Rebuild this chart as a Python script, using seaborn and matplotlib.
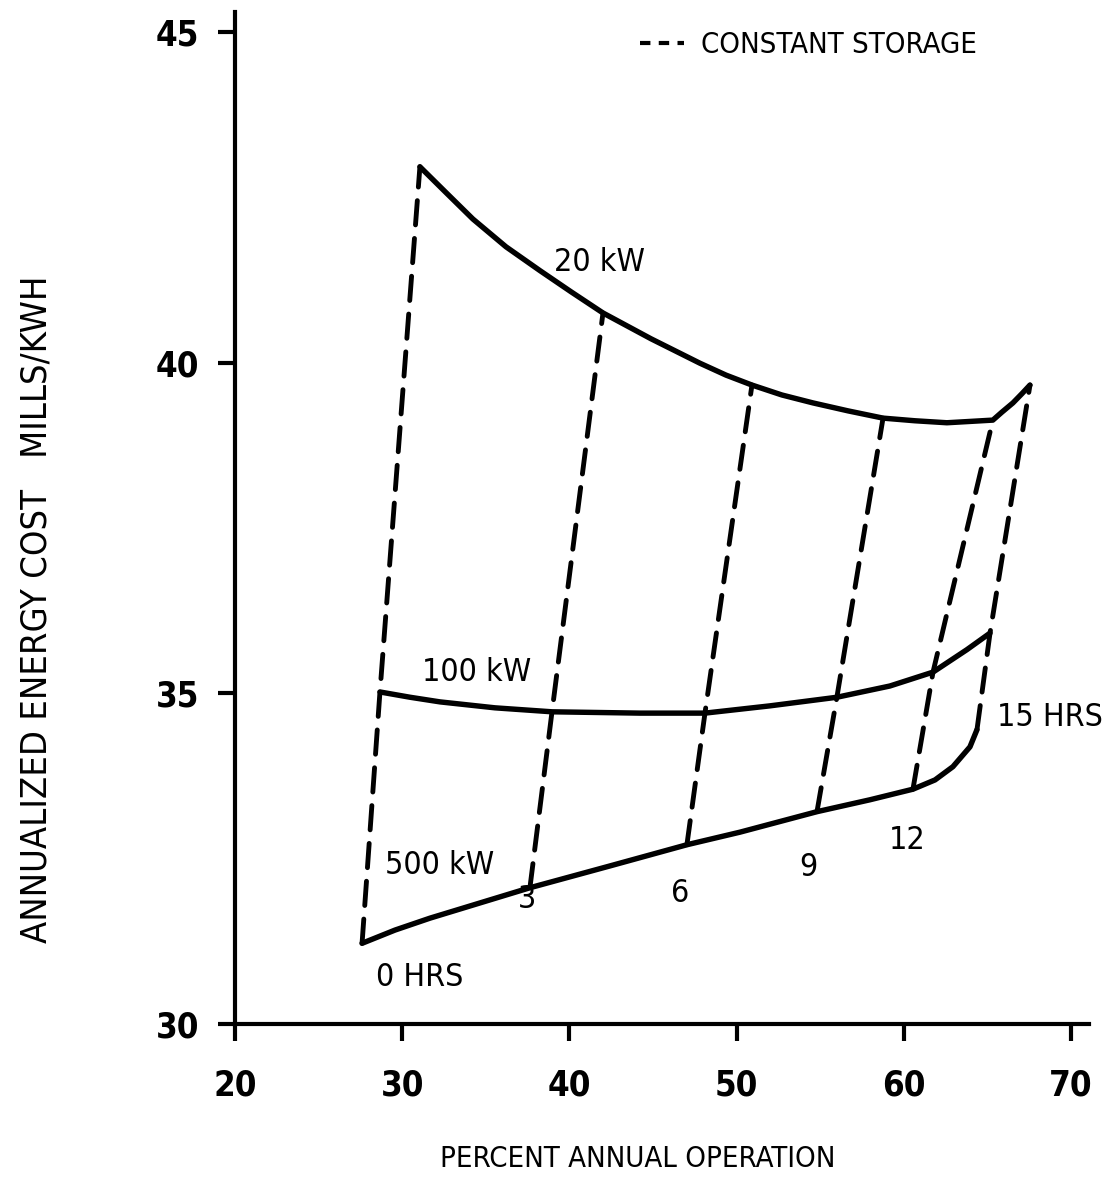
import matplotlib
matplotlib.use("Agg")
import matplotlib.pyplot as plt
import seaborn as sns
import pandas as pd
from matplotlib.lines import Line2D

# solid curves (percent annual operation, mills/kWh)
kw20_x = [31.06, 32.62, 34.23, 36.21, 38.24, 40.10, 42.01, 44.88, 47.81, 49.37, 50.92,
          52.71, 54.57, 56.66, 58.76, 60.67, 62.58, 63.96, 65.33, 65.87, 66.53, 67.07, 67.55]
kw20_y = [42.96, 42.57, 42.17, 41.75, 41.39, 41.07, 40.75, 40.36, 39.99, 39.81, 39.66,
          39.51, 39.39, 39.27, 39.16, 39.12, 39.09, 39.11, 39.13, 39.25, 39.39, 39.53, 39.66]
kw100_x = [28.67, 30.47, 32.26, 35.55, 38.96, 44.22, 48.11, 52.00, 56.00, 59.17, 61.75, 63.78, 65.16]
kw100_y = [35.02, 34.94, 34.87, 34.78, 34.72, 34.70, 34.70, 34.81, 34.94, 35.11, 35.32, 35.66, 35.91]
kw500_x = [27.60, 29.57, 31.66, 34.65, 37.64, 42.43, 47.03, 50.20, 54.81, 57.98, 60.55,
           61.87, 62.94, 63.96, 64.38]
kw500_y = [31.22, 31.42, 31.60, 31.83, 32.06, 32.39, 32.71, 32.90, 33.21, 33.39, 33.55,
           33.69, 33.89, 34.19, 34.45]

# constant storage lines (hours), points on 500 / 100 / 20 kW curves
hours = [0, 3, 6, 9, 12, 15]
cs500_x = [27.60, 37.64, 47.03, 54.81, 60.55, 64.38]
cs500_y = [31.22, 32.06, 32.71, 33.21, 33.55, 34.45]
cs100_x = [28.67, 38.96, 48.11, 56.00, 61.75, 65.16]
cs100_y = [35.02, 34.72, 34.70, 34.94, 35.32, 35.91]
cs20_x = [31.06, 42.01, 50.92, 58.76, 65.33, 67.55]
cs20_y = [42.96, 40.75, 39.66, 39.16, 39.13, 39.66]

x_ticks = [20, 30, 40, 50, 60, 70]
y_ticks = [30, 35, 40, 45]

solid = pd.concat([
    pd.DataFrame({"x": kw20_x, "y": kw20_y, "curve": "20 kW"}),
    pd.DataFrame({"x": kw100_x, "y": kw100_y, "curve": "100 kW"}),
    pd.DataFrame({"x": kw500_x, "y": kw500_y, "curve": "500 kW"}),
], ignore_index=True)

rows = []
for i, h in enumerate(hours):
    rows.append({"x": cs500_x[i], "y": cs500_y[i], "hrs": h})
    rows.append({"x": cs100_x[i], "y": cs100_y[i], "hrs": h})
    rows.append({"x": cs20_x[i], "y": cs20_y[i], "hrs": h})
dashed = pd.DataFrame(rows)

sns.set_theme(style="white")
plt.rcParams["font.family"] = ["DejaVu Sans"]
plt.rcParams["font.stretch"] = "condensed"
plt.rcParams["text.color"] = "black"
plt.rcParams["axes.labelcolor"] = "black"
plt.rcParams["xtick.color"] = "black"
plt.rcParams["ytick.color"] = "black"

fig = plt.figure(figsize=(11.11, 12), dpi=100)
ax = fig.add_axes([235 / 1111, 176 / 1200, 854 / 1111, 1012 / 1200])

sns.lineplot(data=solid, x="x", y="y", units="curve", estimator=None, sort=False,
             color="black", lw=3.9, ax=ax, legend=False)
sns.lineplot(data=dashed, x="x", y="y", units="hrs", estimator=None, sort=False,
             color="black", lw=3.5, ax=ax, legend=False)
for ln in ax.lines[3:]:
    ln.set_linestyle((0, (5, 2.8)))
    ln.set_dash_capstyle("round")
for ln in ax.lines[:3]:
    ln.set_solid_capstyle("round")
    ln.set_solid_joinstyle("round")

ax.set_xlim(20, 71.08)
ax.set_ylim(30, 45.3)
ax.set_xticks(x_ticks)
ax.set_yticks(y_ticks)
ax.tick_params(axis="both", direction="out", length=12, width=3,
               labelsize=25, left=True, bottom=True)
ax.tick_params(axis="y", pad=14)
ax.tick_params(axis="x", pad=20)
for t in ax.get_xticklabels() + ax.get_yticklabels():
    t.set_fontweight("bold")
sns.despine(ax=ax)
for s in ["left", "bottom"]:
    ax.spines[s].set_linewidth(3)
    ax.spines[s].set_color("black")

ax.set_xlabel("PERCENT ANNUAL OPERATION", fontsize=21)
ax.xaxis.set_label_coords(0.471, -0.12)
ax.set_ylabel("ANNUALIZED ENERGY COST   MILLS/KWH", fontsize=26)
ax.yaxis.set_label_coords(-0.212, 0.41)

lbl = dict(fontsize=23, ha="center", va="center")
ax.text(41.83, 41.52, "20 kW", **lbl)
ax.text(34.47, 35.32, "100 kW", **lbl)
ax.text(32.26, 32.39, "500 kW", **lbl)
ax.text(31.06, 30.71, "0 HRS", **lbl)
ax.text(37.46, 31.88, "3", **lbl)
ax.text(46.61, 31.98, "6", **lbl)
ax.text(54.27, 32.37, "9", **lbl)
ax.text(60.19, 32.78, "12", **lbl)
ax.text(68.74, 34.64, "15 HRS", **lbl)

handle = Line2D([], [], color="black", lw=3, linestyle=(0, (2.5, 2)))
ax.legend([handle], ["CONSTANT STORAGE"], loc="center left",
          bbox_to_anchor=(0.474, 0.967), frameon=False, fontsize=21,
          handlelength=1.5, handletextpad=0.6, borderpad=0, borderaxespad=0)

fig.savefig("out.png", dpi=100, facecolor="white")
